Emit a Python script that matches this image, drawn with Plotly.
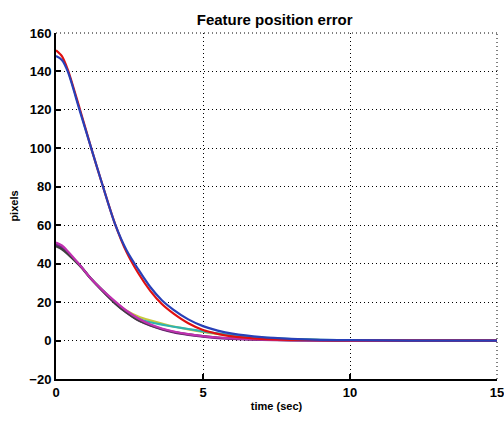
import plotly.graph_objects as go

# time samples (sec)
t = [0, 0.2, 0.4, 0.8, 1.2, 1.6, 2.0, 2.4, 2.8, 3.2, 3.6, 4.0, 4.5, 5.0, 5.5, 6.0, 7.0, 8.0, 9.0, 10.0, 12.0, 15.0]

red = [151, 148, 141, 121, 100, 80, 61, 46, 35, 26, 19, 14, 9, 5.5, 3.5, 2.2, 0.9, 0.4, 0.2, 0.1, 0.0, 0.0]
blue = [148, 146, 140, 120, 100, 80, 61, 47, 37, 28, 21, 16, 11, 7.5, 5.2, 3.6, 1.8, 0.9, 0.4, 0.2, 0.0, 0.0]
magenta = [51, 49.5, 46.5, 39.5, 32, 26, 20.5, 15.5, 11.5, 8.5, 6.3, 4.7, 3.3, 2.3, 1.6, 1.1, 0.5, 0.2, 0.1, 0.0, 0.0, 0.0]
gray = [49, 47.5, 45, 39, 32, 25.5, 19.5, 14.5, 10.5, 8.0, 6.0, 4.5, 3.2, 2.3, 1.6, 1.1, 0.5, 0.2, 0.1, 0.0, 0.0, 0.0]
yellow = [50, 48.5, 45.5, 39.5, 32, 26, 20, 15.5, 12.5, 10.5, 8.8, 7.3, 5.8, 4.5, 3.4, 2.5, 1.3, 0.6, 0.3, 0.1, 0.0, 0.0]
cyan = [50, 48.5, 45.5, 39.5, 32, 26, 20, 15, 11.5, 9.5, 8.3, 7.2, 6.0, 4.8, 3.7, 2.8, 1.5, 0.8, 0.4, 0.2, 0.0, 0.0]
purple = [50, 48.5, 45.5, 39.5, 32, 25.5, 19.5, 14.5, 10.5, 7.8, 5.8, 4.2, 3.0, 2.0, 1.3, 0.8, 0.3, 0.1, 0.0, 0.0, 0.0, 0.0]

series = [
    ("yellow", yellow, "#c8c83c"),
    ("cyan", cyan, "#2fb3b0"),
    ("purple", purple, "#7a1f8a"),
    ("gray", gray, "#404040"),
    ("magenta", magenta, "#c030b0"),
    ("red", red, "#e01010"),
    ("blue", blue, "#2840b8"),
]

fig = go.Figure()
for name, y, c in series:
    fig.add_trace(go.Scatter(x=t, y=y, mode="lines", name=name,
                             line=dict(color=c, width=2.2, shape="spline", smoothing=0.8)))

FONT = "Liberation Sans, Arial"
axis_common = dict(
    showgrid=True, gridcolor="black", griddash="1px,3px", gridwidth=1,
    showline=True, linecolor="black", linewidth=2,
    ticks="inside", ticklen=5, tickcolor="black", tickwidth=1.5,
    zeroline=False, mirror=False, automargin=False, ticklabeloverflow="allow",
    tickfont=dict(family=FONT, size=13, color="black", weight="bold"),
)

fig.update_layout(
    width=504, height=421,
    margin=dict(l=56, r=7, t=33, b=42),
    paper_bgcolor="white", plot_bgcolor="white",
    showlegend=False,
    title=dict(text="<b>Feature position error</b>", x=0.545, xanchor="center", y=0.965,
               font=dict(family=FONT, size=15, color="black")),
    xaxis=dict(range=[0, 15], tickvals=[0, 5, 10, 15],
               title=dict(text="<b>time (sec)</b>", standoff=4,
                          font=dict(family=FONT, size=11, color="black")),
               **axis_common),
    yaxis=dict(range=[-20, 160], tickvals=[-20, 0, 20, 40, 60, 80, 100, 120, 140, 160],
               title=dict(text="<b>pixels</b>", standoff=8,
                          font=dict(family=FONT, size=11, color="black")),
               **axis_common),
)

# dotted grid lines on the top and right edges (MATLAB-style box-less grid)
fig.add_shape(type="line", xref="paper", yref="paper", x0=0, x1=1, y0=1, y1=1,
              line=dict(color="black", width=1, dash="1px,3px"), layer="below")
fig.add_shape(type="line", xref="paper", yref="paper", x0=1, x1=1, y0=0, y1=1,
              line=dict(color="black", width=1, dash="1px,3px"), layer="below")

fig.write_html("out.html")
